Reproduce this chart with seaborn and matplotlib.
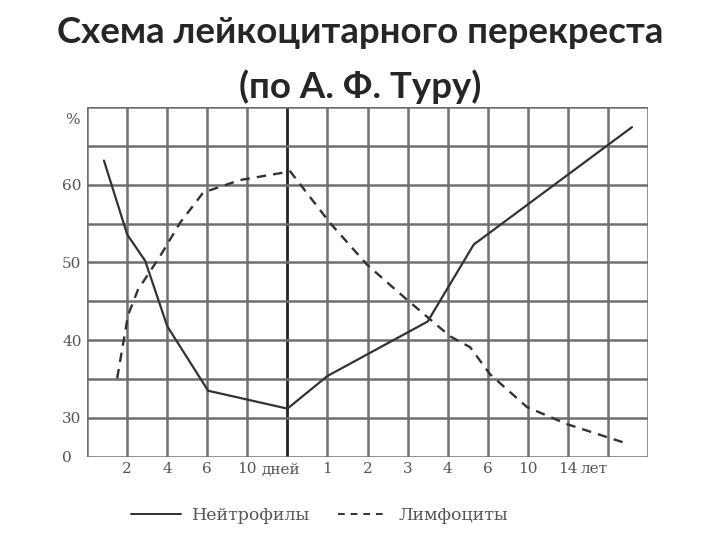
import pandas as pd
import seaborn as sns
import matplotlib.pyplot as plt
from matplotlib.lines import Line2D

# Данные (позиции по сетке: 1 клетка = один шаг шкалы; y в %, ось разорвана 0 -> 25)
neutro_x = [0.42, 1.0, 1.45, 2.0, 3.02, 5.0, 6.0, 8.5, 9.65, 13.6]
neutro_y = [63.1, 53.6, 50.2, 41.8, 33.5, 31.2, 35.4, 42.4, 52.3, 67.4]

lymph_x = [0.75, 1.02, 1.27, 1.82, 2.32, 2.90, 3.82, 5.07, 6.06, 6.99,
           7.94, 9.06, 9.56, 10.06, 10.98, 11.98, 13.48]
lymph_y = [35.1, 43.2, 46.5, 50.8, 55.1, 59.0, 60.6, 61.7, 55.1, 49.7,
           45.4, 40.5, 39.1, 35.6, 31.4, 29.2, 26.7]

x_ticks = [1, 2, 3, 4, 5, 6, 7, 8, 9, 10, 11, 12, 13]
x_labels = ['2', '4', '6', '10', '', '1', '2', '3', '4', '6', '10', '14', '']
y_ticks = [25, 30, 40, 50, 60]
y_labels = ['0', '30', '40', '50', '60']

df_n = pd.DataFrame({'x': neutro_x, 'y': neutro_y})
df_l = pd.DataFrame({'x': lymph_x, 'y': lymph_y})

sns.set_style('white')

fig = plt.figure(figsize=(7.2, 5.4), dpi=100)
ax = fig.add_axes([0.121, 0.154, 0.779, 0.648])

line_col = '#333333'
sns.lineplot(data=df_n, x='x', y='y', sort=False, estimator=None, ax=ax,
             color=line_col, linewidth=1.6)
sns.lineplot(data=df_l, x='x', y='y', sort=False, estimator=None, ax=ax,
             color=line_col, linewidth=1.7, linestyle=(0, (4, 3)))

ax.set_xlim(0, 14)
ax.set_ylim(25, 70)

grid_col = '#707070'
for xv in range(0, 15):
    ax.axvline(xv, color='#222222' if xv == 5 else grid_col,
               lw=2.0 if xv == 5 else 1.8, zorder=0)
for yv in range(25, 71, 5):
    ax.axhline(yv, color=grid_col, lw=1.8, zorder=0)

for s in ax.spines.values():
    s.set_visible(False)

serif = 'DejaVu Serif'
tick_col = '#555555'
ax.set_xticks(x_ticks)
ax.set_xticklabels(x_labels, fontfamily=serif, fontsize=11, color=tick_col)
ax.set_yticks(y_ticks)
ax.set_yticklabels(y_labels, fontfamily=serif, fontsize=11, color=tick_col,
                   ha='left')
ax.tick_params(axis='x', length=0, pad=4)
ax.tick_params(axis='y', length=0, pad=18)
ax.set_xlabel('')
ax.set_ylabel('')

# подписи единиц
for xu, unit in [(4.35, 'дней'), (12.33, 'лет')]:
    ax.annotate(unit, xy=(xu, 0), xycoords=('data', 'axes fraction'),
                xytext=(0, -4), textcoords='offset points', ha='left', va='top',
                fontfamily=serif, fontsize=11, color=tick_col)
ax.annotate('%', xy=(0, 68.3), xycoords=('axes fraction', 'data'),
            xytext=(-16, 0), textcoords='offset points', ha='left', va='center',
            fontfamily=serif, fontsize=11, color=tick_col)

fig.text(0.5, 0.889, 'Схема лейкоцитарного перекреста\n(по А. Ф. Туру)',
         ha='center', va='center', multialignment='center',
         fontfamily='Lato', fontweight='bold', fontsize=26.4, linespacing=1.7)

handles = [Line2D([], [], color=line_col, lw=1.4),
           Line2D([], [], color=line_col, lw=1.4, linestyle=(0, (3.5, 3)))]
fig.legend(handles, ['Нейтрофилы', 'Лимфоциты'], loc='center',
           bbox_to_anchor=(0.444, 0.046), ncol=2, frameon=False,
           prop={'family': serif, 'size': 12.5}, labelcolor=tick_col,
           handlelength=2.9, handletextpad=0.6, columnspacing=1.6)

fig.savefig('out.png', dpi=100)
